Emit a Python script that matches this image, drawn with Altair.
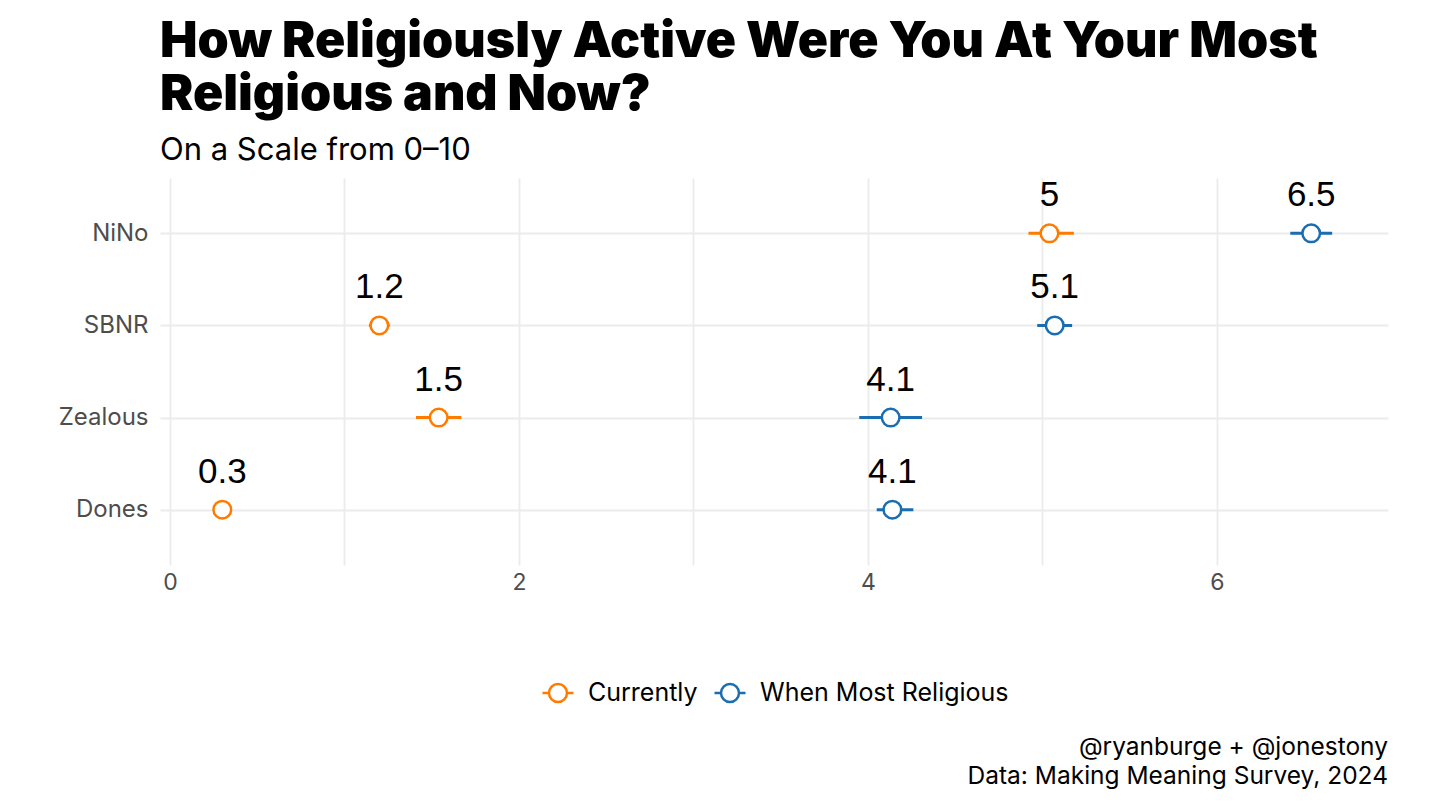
import altair as alt
import pandas as pd

groups = ["NiNo", "SBNR", "Zealous", "Dones"]
series = ["Currently", "When Most Religious"]
current = [5.04, 1.20, 1.54, 0.30]
current_lo = [4.92, 1.14, 1.41, 0.26]
current_hi = [5.18, 1.26, 1.67, 0.34]
most = [6.54, 5.07, 4.13, 4.14]
most_lo = [6.42, 4.97, 3.95, 4.05]
most_hi = [6.66, 5.17, 4.31, 4.26]
x_ticks = [0, 1, 2, 3, 4, 5, 6]
colors = ["#FF7B00", "#1A6DB0"]
title_lines = ["How Religiously Active Were You At Your Most", "Religious and Now?"]
subtitle = "On a Scale from 0\u201310"
caption_lines = ["@ryanburge + @jonestony", "Data: Making Meaning Survey, 2024"]


def fmt(v):
    return f"{round(v, 1):g}"


rows = []
for i, g in enumerate(groups):
    rows.append(dict(group=g, series=series[0], value=current[i], lo=current_lo[i], hi=current_hi[i], label=fmt(current[i])))
    rows.append(dict(group=g, series=series[1], value=most[i], lo=most_lo[i], hi=most_hi[i], label=fmt(most[i])))
df = pd.DataFrame(rows)
cap_df = pd.DataFrame({"t": ["\n".join(caption_lines)]})

BODY = "Inter"
W, H = 1228, 387

xscale = alt.Scale(domain=[-0.057, 6.98], nice=False, zero=False)
yscale = alt.Scale(type="point", padding=0.6)
cscale = alt.Scale(domain=series, range=colors)

xaxis = alt.Axis(values=x_ticks, format="d", labelExpr="datum.value % 2 === 0 ? datum.label : ''",
                 grid=True, gridColor="#EBEBEB", gridWidth=1.8, ticks=False, domain=False,
                 labelFont=BODY, labelFontSize=23, labelColor="#4D4D4D", labelPadding=6, title=None)
yaxis = alt.Axis(grid=True, gridColor="#EBEBEB", gridWidth=1.8, ticks=False, domain=False,
                 labelFont=BODY, labelFontSize=24, labelColor="#4D4D4D", labelPadding=12, title=None)

sym = "M-1,0L-0.58,0M0.58,0L1,0M-0.58,0A0.58,0.58,0,1,1,0.58,0A0.58,0.58,0,1,1,-0.58,0Z"
legend = alt.Legend(
    orient="none", legendX=381, legendY=498, direction="horizontal", title=None,
    symbolType=sym, symbolSize=961, symbolStrokeWidth=2.5, symbolFillColor="white",
    labelFont=BODY, labelFontSize=25, labelColor="black", labelOffset=13, columnPadding=11,
    labelLimit=400)

base = alt.Chart(df)

rules = base.mark_rule(strokeWidth=3).encode(
    x=alt.X("lo:Q", scale=xscale, axis=xaxis),
    x2="hi:Q",
    y=alt.Y("group:N", sort=groups, scale=yscale, axis=yaxis),
    color=alt.Color("series:N", scale=cscale, legend=legend),
)

points = base.mark_point(shape="circle", size=310, strokeWidth=2.5, fill="white", fillOpacity=1, opacity=1).encode(
    x=alt.X("value:Q", scale=xscale),
    y=alt.Y("group:N", sort=groups, scale=yscale),
    color=alt.Color("series:N", scale=cscale, legend=legend),
)

labels = base.mark_text(font="Liberation Sans", fontSize=35, dy=-27, baseline="alphabetic", color="black").encode(
    x=alt.X("value:Q", scale=xscale),
    y=alt.Y("group:N", sort=groups, scale=yscale),
    text="label:N",
)

caption = alt.Chart(cap_df).mark_text(font=BODY, fontSize=24.5, align="right", baseline="alphabetic",
                                      lineBreak="\n", lineHeight=29, color="black").encode(
    x=alt.value(W), y=alt.value(577), text="t:N")

chart = alt.layer(rules, points, labels, caption).properties(
    width=W, height=H,
    title=alt.TitleParams(text=title_lines, subtitle=subtitle, anchor="start", frame="group",
                          font="Inter", fontWeight=900, fontSize=50, lineHeight=53, color="black",
                          subtitleFont=BODY, subtitleFontSize=31, subtitleColor="black",
                          subtitlePadding=16, offset=12),
    padding={"left": 152, "top": 170, "right": 50, "bottom": 230},
    autosize=alt.AutoSizeParams(type="none"),
).configure_view(stroke=None)

chart.save("out.html", embed_options={"renderer": "svg", "actions": False})
